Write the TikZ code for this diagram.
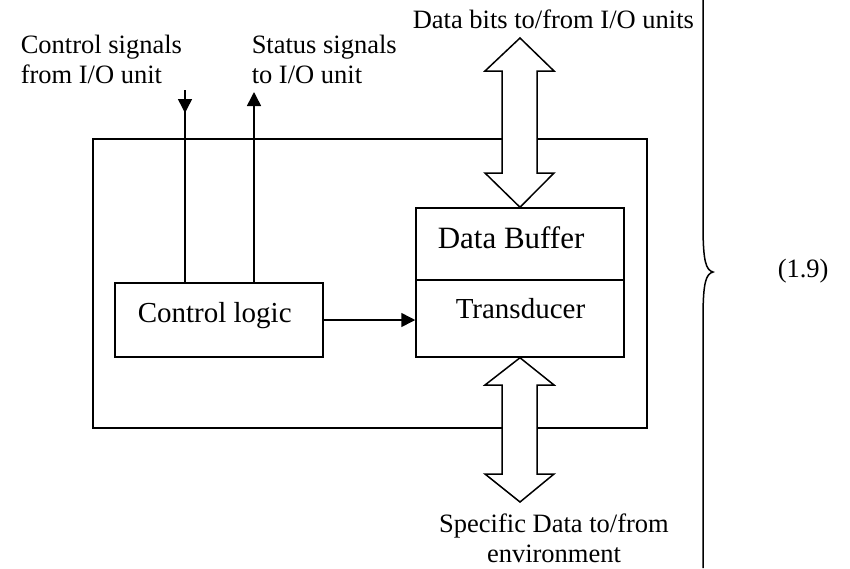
\documentclass[tikz,border=0pt]{standalone}
\usepackage{fontspec}
\setmainfont{Liberation Serif}
\usetikzlibrary{arrows.meta}
\begin{document}
\begin{tikzpicture}[x=1pt,y=-1pt,
  line width=1.5pt,
  box/.style={draw, inner sep=0pt, minimum width=#1},
  lbl/.style={inner sep=0pt, anchor=base west, align=left,
              font=\fontsize{26.5}{30}\selectfont},
  blk/.style={inner sep=0pt, anchor=base west, font=\fontsize{29}{34}\selectfont},
  tip/.style={-{Triangle[length=14pt,width=14pt]}},
  bus/.style={draw, fill=white, line join=miter}]
\useasboundingbox (0,0) rectangle (850,568);

% enclosing unit
\node[box=554pt, minimum height=289pt] (unit) at (370,283.5) {};

% inner blocks
\node[box=208pt, minimum height=74pt] (ctrl) at (219,320) {};
\node[box=208pt, minimum height=72pt] (buf) at (520,244) {};
\node[box=208pt, minimum height=77pt] (trans) at (520,318.5) {};

\node[blk] (ctrltxt) at (137,322) {Control logic};
\node[blk, font=\fontsize{31}{36}\selectfont] (buftxt) at (437,248) {Data Buffer};
\node[blk] (transtxt) at (455,318) {Transducer};

% control logic drives the transducer
\draw[tip] (ctrl.east) -- (ctrl.east -| trans.west);

% signal lines to and from the I/O unit
\coordinate (cin) at (185,90);
\coordinate (sout) at (254,92);
\draw (cin) -- (cin |- ctrl.north);
\draw[tip] (cin) -- ++(0,23);
\draw[tip] (sout |- ctrl.north) -- (sout);

% bidirectional data paths
\path[bus] (520,38) -- (554,71) -- (537,71) -- (537,173) -- (554,173)
  -- (buf.north) -- (485,173) -- (502,173) -- (502,71) -- (485,71) -- cycle;
\path[bus] (trans.south) -- (554,385) -- (537,385) -- (537,474) -- (554,474)
  -- (520,502) -- (485,474) -- (502,474) -- (502,385) -- (485,385) -- cycle;

% labels (two-line nodes sit on the baseline of their last line)
\node[lbl] (ctrlsig) at (20,83) {Control signals\\from I/O unit};
\node[lbl] (statsig) at (251,83) {Status signals\\to I/O unit};
\node[lbl] (datasig) at (412,28) {Data bits to/from I/O units};
\node[lbl, anchor=base, align=center] (envsig) at (554,562)
  {Specific Data to/from\\environment};

% brace line and equation number
\draw (703,0) -- (703,225) .. controls (703,262) and (706,270) .. (713,272)
  .. controls (706,274) and (703,282) .. (703,318) -- (703,568);
\node[lbl] (eqno) at (777,277) {(1.9)};
\end{tikzpicture}
\end{document}
